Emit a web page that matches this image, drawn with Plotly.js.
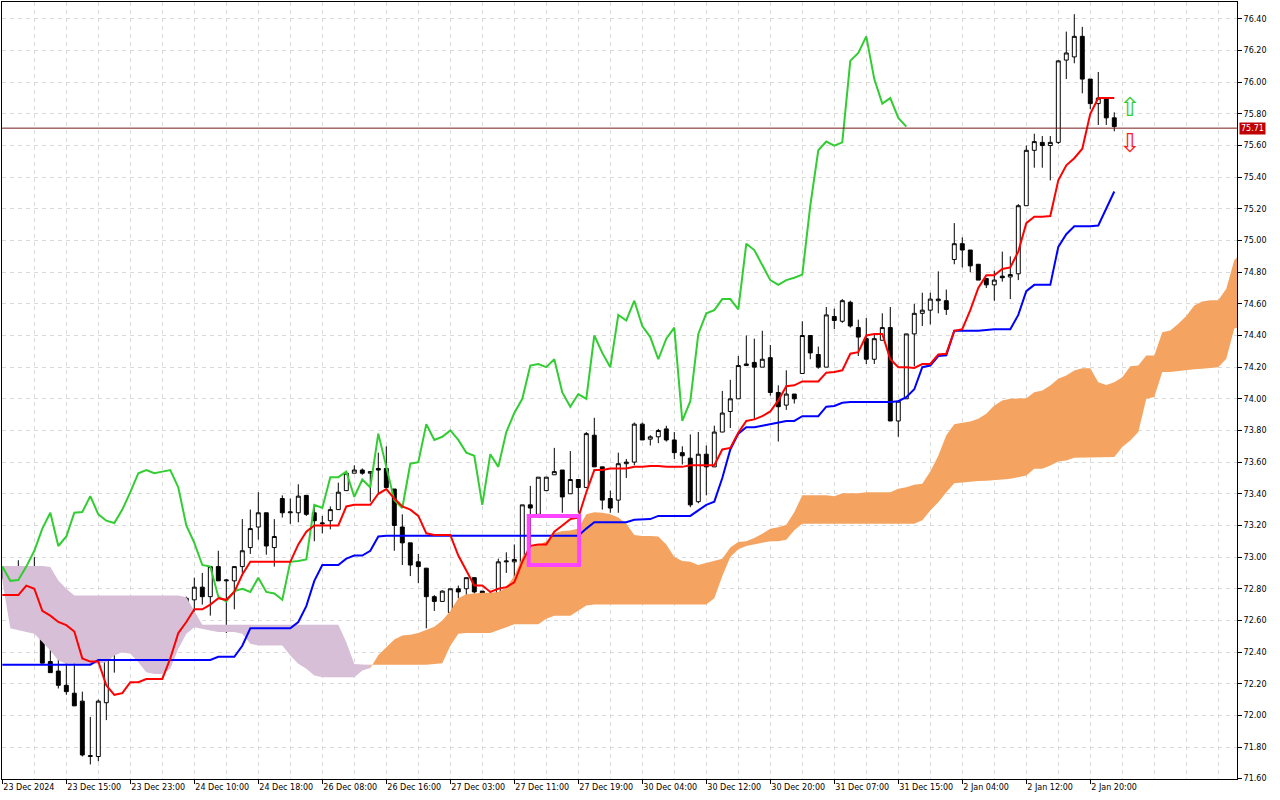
<!DOCTYPE html>
<html>
<head>
<meta charset="utf-8">
<script src="https://cdn.plot.ly/plotly-3.0.1.min.js"></script>
<style>
html,body{margin:0;padding:0;background:#fff;}
#chart{width:1280px;height:800px;}
</style>
</head>
<body>
<div id="chart"></div>
<script>
// ---- Data (H1 bars, index = bar number) ----
const xLabels = ['23 Dec 2024','23 Dec 15:00','23 Dec 23:00','24 Dec 10:00','24 Dec 18:00','26 Dec 08:00','26 Dec 16:00','27 Dec 03:00','27 Dec 11:00','27 Dec 19:00','30 Dec 04:00','30 Dec 12:00','30 Dec 20:00','31 Dec 07:00','31 Dec 15:00','2 Jan 04:00','2 Jan 12:00','2 Jan 20:00'];
const labelBars = [0,8,16,24,32,40,48,56,64,72,80,88,96,104,112,120,128,136];

const open = [
72.90,72.86,72.87,72.80,72.87,72.58,72.34,72.28,72.19,72.14,
72.09,71.74,71.74,72.08,72.41,72.51,72.56,72.58,72.52,72.58,
72.46,72.61,72.63,72.59,72.73,72.81,72.75,72.94,72.85,72.85,
72.94,73.06,73.19,73.28,73.06,73.37,73.28,73.28,73.39,73.28,
73.21,73.23,73.30,73.42,73.53,73.55,73.53,73.56,73.56,73.43,
73.19,73.09,72.97,72.93,72.75,72.72,72.65,72.80,72.80,72.87,
72.785,72.75,72.73,72.97,72.97,72.93,73.33,73.27,73.42,73.52,
73.55,73.40,73.49,73.44,73.77,73.57,73.37,73.36,73.59,73.60,
73.84,73.745,73.76,73.81,73.74,73.66,73.625,73.35,73.65,73.57,
73.79,73.92,74.00,74.21,74.23,74.20,74.26,74.04,73.96,74.03,
74.16,74.40,74.28,74.20,74.52,74.49,74.61,74.45,74.38,74.25,
74.37,74.45,73.86,74.00,74.41,74.54,74.56,74.62,74.62,74.88,
74.98,74.94,74.85,74.76,74.72,74.775,74.77,74.79,75.22,75.57,
75.62,75.60,75.62,76.14,76.16,76.29,76.02,75.865,75.90,75.775];
const high = [
72.94,72.93,72.98,72.93,73.00,72.65,72.51,72.51,72.36,72.45,
72.15,71.99,72.10,72.41,72.57,72.59,72.72,72.67,72.75,72.58,
72.63,72.70,72.68,72.75,72.87,72.90,72.94,73.04,72.86,72.94,
73.24,73.30,73.41,73.28,73.24,73.39,73.37,73.46,73.39,73.33,
73.26,73.32,73.47,73.53,73.58,73.56,73.54,73.66,73.70,73.43,
73.27,73.09,73.02,72.93,72.76,72.79,72.80,72.82,72.87,72.87,
72.785,72.78,72.99,73.03,73.08,73.33,73.45,73.505,73.505,73.69,
73.55,73.67,73.49,73.79,73.88,73.57,73.42,73.66,73.62,73.85,
73.85,73.77,73.81,73.83,73.79,73.70,73.775,73.79,73.705,73.83,
74.05,74.12,74.27,74.40,74.38,74.43,74.34,74.085,74.18,74.03,
74.49,74.40,74.33,74.58,74.57,74.63,74.62,74.50,74.51,74.41,
74.54,74.58,73.99,74.41,74.60,74.67,74.67,74.805,74.69,75.11,
75.02,74.94,74.85,74.76,74.81,74.93,74.90,75.23,75.60,75.675,
75.66,75.66,76.14,76.32,76.43,76.35,76.02,76.065,75.90,75.81];
const low = [
72.86,72.80,72.75,72.63,72.56,72.33,72.27,72.17,72.13,72.06,
71.74,71.69,71.71,71.97,72.27,72.42,72.56,72.51,72.51,72.44,
72.44,72.57,72.58,72.59,72.63,72.70,72.63,72.85,72.52,72.67,
72.90,73.02,73.11,73.015,72.94,73.25,73.21,73.22,73.26,73.10,
73.15,73.175,73.30,73.42,73.53,73.52,73.35,73.40,73.44,73.04,
72.95,72.88,72.835,72.55,72.66,72.72,72.59,72.74,72.74,72.77,
72.765,72.65,72.73,72.90,72.80,72.92,72.89,73.27,73.42,73.52,
73.28,73.40,73.28,73.44,73.57,73.30,73.28,73.28,73.50,73.58,
73.74,73.705,73.72,73.73,73.62,73.585,73.315,73.34,73.39,73.57,
73.79,73.815,74.00,74.21,73.87,74.20,74.02,73.73,73.93,73.97,
74.16,74.25,74.19,74.20,74.44,74.48,74.45,74.27,74.22,74.22,
74.37,73.86,73.76,74.00,74.205,74.46,74.47,74.54,74.53,74.85,
74.83,74.80,74.75,74.70,74.62,74.74,74.63,74.75,75.22,75.46,
75.46,75.38,75.61,76.02,76.12,75.93,75.83,75.73,75.73,75.69];
const close = [
72.87,72.87,72.80,72.88,72.56,72.33,72.27,72.19,72.15,72.06,
71.75,71.745,72.09,72.41,72.51,72.57,72.61,72.51,72.57,72.45,
72.61,72.63,72.59,72.74,72.81,72.75,72.94,72.85,72.855,72.94,
73.04,73.18,73.28,73.07,73.13,73.28,73.285,73.385,73.27,73.23,
73.215,73.30,73.41,73.53,73.55,73.53,73.54,73.55,73.44,73.20,
73.09,72.95,72.94,72.75,72.72,72.785,72.80,72.78,72.87,72.78,
72.77,72.73,72.97,72.975,72.985,73.33,73.31,73.505,73.505,73.54,
73.38,73.49,73.44,73.78,73.57,73.36,73.31,73.59,73.60,73.84,
73.74,73.76,73.80,73.74,73.66,73.64,73.33,73.65,73.57,73.79,
73.91,74.00,74.21,74.22,74.20,74.25,74.04,73.95,74.03,74.00,
74.40,74.29,74.20,74.53,74.495,74.62,74.46,74.39,74.25,74.38,
74.45,73.86,73.985,74.41,74.54,74.56,74.63,74.63,74.565,74.98,
74.94,74.84,74.75,74.72,74.75,74.765,74.785,75.22,75.57,75.625,
75.60,75.62,76.135,76.185,76.29,76.02,75.865,75.90,75.775,75.72];

const tenkan = [
72.76,72.76,72.76,72.82,72.80,72.66,72.63,72.59,72.57,72.53,
72.36,72.34,72.34,72.19,72.13,72.14,72.21,72.21,72.23,72.23,
72.23,72.36,72.52,72.59,72.67,72.67,72.70,72.74,72.73,72.78,
72.89,72.97,72.97,72.97,72.97,72.97,72.97,73.08,73.16,73.20,
73.20,73.20,73.20,73.32,73.33,73.33,73.33,73.40,73.43,73.37,
73.32,73.30,73.26,73.15,73.14,73.14,73.14,73.01,72.91,72.82,
72.82,72.78,72.80,72.81,72.84,72.97,73.07,73.08,73.08,73.16,
73.20,73.24,73.25,73.41,73.55,73.55,73.56,73.56,73.56,73.57,
73.57,73.575,73.575,73.57,73.57,73.57,73.58,73.58,73.58,73.58,
73.68,73.69,73.785,73.86,73.87,73.89,73.92,73.99,74.08,74.085,
74.11,74.11,74.11,74.165,74.17,74.18,74.285,74.295,74.40,74.41,
74.41,74.25,74.20,74.20,74.195,74.22,74.22,74.28,74.285,74.43,
74.44,74.56,74.70,74.78,74.78,74.82,74.83,74.93,75.11,75.15,
75.15,75.155,75.38,75.475,75.52,75.58,75.80,75.90,75.90,75.90];
const kijun = [
72.32,72.32,72.32,72.32,72.32,72.32,72.32,72.32,72.32,72.32,
72.32,72.32,72.35,72.35,72.35,72.35,72.35,72.35,72.35,72.35,
72.35,72.35,72.35,72.35,72.35,72.35,72.35,72.37,72.37,72.37,
72.44,72.55,72.55,72.55,72.55,72.55,72.55,72.59,72.69,72.85,
72.95,72.95,72.95,72.99,73.01,73.01,73.04,73.13,73.135,73.135,
73.135,73.135,73.135,73.135,73.135,73.135,73.135,73.135,73.135,73.135,
73.135,73.135,73.135,73.135,73.135,73.135,73.135,73.135,73.135,73.135,
73.135,73.135,73.135,73.18,73.22,73.22,73.22,73.22,73.22,73.236,
73.24,73.24,73.26,73.26,73.26,73.26,73.26,73.295,73.33,73.35,
73.50,73.68,73.78,73.82,73.82,73.83,73.84,73.85,73.86,73.86,
73.89,73.89,73.89,73.95,73.955,73.975,73.98,73.98,73.98,73.98,
73.98,73.98,73.985,74.01,74.06,74.20,74.21,74.27,74.275,74.43,
74.43,74.43,74.43,74.435,74.44,74.44,74.44,74.53,74.68,74.72,
74.72,74.72,74.96,75.04,75.09,75.09,75.09,75.095,75.20,75.31];
// Senkou spans as drawn (already shifted 26 bars forward), bars 0..155
const spanA = [
72.85,72.55,72.536,72.526,72.515,72.463,72.41,72.347,72.326,72.326,
72.326,72.326,72.326,72.336,72.378,72.399,72.389,72.336,72.273,72.262,
72.262,72.294,72.421,72.515,72.557,72.547,72.536,72.526,72.526,72.526,
72.515,72.452,72.442,72.442,72.442,72.442,72.378,72.326,72.294,72.252,
72.241,72.241,72.241,72.241,72.241,72.284,72.30,72.38,72.43,72.48,
72.505,72.51,72.52,72.54,72.56,72.60,72.66,72.74,72.765,72.77,
72.775,72.775,72.78,72.81,72.88,73.00,73.06,73.075,73.10,73.15,
73.165,73.168,73.18,73.27,73.284,73.28,73.27,73.25,73.21,73.14,
73.133,73.133,73.13,73.08,73.00,72.975,72.97,72.95,72.965,72.98,
72.99,73.06,73.095,73.10,73.12,73.147,73.179,73.189,73.204,73.284,
73.39,73.39,73.39,73.39,73.385,73.404,73.404,73.404,73.41,73.41,
73.41,73.41,73.432,73.442,73.457,73.463,73.54,73.64,73.77,73.84,
73.849,73.857,73.874,73.905,73.958,73.99,74.00,74.00,74.004,74.042,
74.053,74.084,74.126,74.147,74.179,74.193,74.193,74.105,74.088,74.105,
74.136,74.206,74.21,74.274,74.274,74.421,74.432,74.474,74.523,74.59,
74.615,74.622,74.622,74.696,74.875,74.927];
const spanB = [
72.943,72.943,72.943,72.943,72.943,72.943,72.937,72.852,72.80,72.758,
72.758,72.758,72.758,72.758,72.758,72.758,72.758,72.758,72.758,72.758,
72.758,72.758,72.758,72.747,72.663,72.572,72.572,72.572,72.572,72.572,
72.572,72.572,72.572,72.572,72.572,72.572,72.572,72.572,72.572,72.572,
72.572,72.572,72.572,72.462,72.325,72.321,72.32,72.32,72.32,72.32,
72.32,72.32,72.32,72.32,72.325,72.33,72.44,72.515,72.52,72.52,
72.52,72.52,72.54,72.557,72.575,72.575,72.575,72.575,72.61,72.63,
72.63,72.63,72.66,72.694,72.70,72.70,72.70,72.70,72.70,72.70,
72.70,72.70,72.70,72.70,72.70,72.70,72.70,72.70,72.70,72.74,
72.88,73.00,73.05,73.07,73.08,73.09,73.10,73.10,73.11,73.17,
73.21,73.21,73.21,73.21,73.21,73.21,73.21,73.21,73.21,73.21,
73.21,73.21,73.21,73.21,73.21,73.232,73.295,73.347,73.41,73.467,
73.474,73.477,73.48,73.482,73.484,73.49,73.495,73.505,73.516,73.558,
73.558,73.579,73.604,73.611,73.628,73.632,73.632,73.632,73.632,73.632,
73.695,73.737,73.79,74.00,74.011,74.169,74.17,74.177,74.18,74.186,
74.19,74.193,74.20,74.253,74.444,74.46];
const chikouShift = 26;
const cloudSwitchBar = 46;      // cloud colour changes from Span B on top to Span A on top
const lastPrice = 75.71;
const lastPriceText = '75.71';
const markBox = {x0: 65.8, x1: 72.1, y0: 72.95, y1: 73.26};
const arrowBar = 141, arrowUpY = 75.745, arrowDownY = 75.715;

// ---- Build traces ----
const bars = close.map((_, i) => i);
const cloudBars = spanA.map((_, i) => i);
function cloudPoly(i0, i1, top, bot) {
  const xs = cloudBars.slice(i0, i1 + 1);
  const xr = xs.slice().reverse();
  return {x: xs.concat(xr), y: top.slice(i0, i1 + 1).concat(bot.slice(i0, i1 + 1).reverse())};
}
const purple = cloudPoly(0, cloudSwitchBar, spanB, spanA);
const orange = cloudPoly(cloudSwitchBar, spanA.length - 1, spanA, spanB);

const traces = [
  {type:'scatter', mode:'lines', x:purple.x, y:purple.y, fill:'toself', fillcolor:'#D8BFD8', line:{width:0, color:'#D8BFD8'}, hoverinfo:'skip'},
  {type:'scatter', mode:'lines', x:orange.x, y:orange.y, fill:'toself', fillcolor:'#F4A460', line:{width:0, color:'#F4A460'}, hoverinfo:'skip'},
  {type:'candlestick', x:bars, open:open, high:high, low:low, close:close,
   increasing:{line:{color:'#000000', width:1}, fillcolor:'#ffffff'},
   decreasing:{line:{color:'#000000', width:1}, fillcolor:'#000000'},
   whiskerwidth:0, hoverinfo:'skip'},
  {type:'scatter', mode:'lines', x:bars.map(i => i - chikouShift), y:close, line:{color:'#32CD32', width:2}, hoverinfo:'skip'},
  {type:'scatter', mode:'lines', x:bars, y:kijun, line:{color:'#0000FF', width:2}, hoverinfo:'skip'},
  {type:'scatter', mode:'lines', x:bars, y:tenkan, line:{color:'#FF0000', width:2}, hoverinfo:'skip'}
];

const gridColor = '#d9d9d9';
const font = {family:'DejaVu Sans, sans-serif', size:8, color:'#000'};
const layout = {
  width:1280, height:800,
  margin:{l:2, r:43, t:2, b:21, pad:0},
  paper_bgcolor:'#ffffff', plot_bgcolor:'#ffffff',
  showlegend:false, dragmode:false, font:font,
  boxgap:0.3,
  xaxis:{
    type:'linear', range:[-0.04, 154.34], fixedrange:true,
    rangeslider:{visible:false},
    tickmode:'array', tickvals:labelBars, ticktext:xLabels,
    ticklabelposition:'outside right',
    ticks:'outside', ticklen:4, tickcolor:'#000', tickwidth:1,
    showgrid:true, gridcolor:gridColor, griddash:'4px,4px', gridwidth:1,
    minor:{tickmode:'linear', tick0:0, dtick:4, showgrid:true, gridcolor:gridColor, griddash:'4px,4px', gridwidth:1, ticks:''},
    showline:true, mirror:true, linecolor:'#000', linewidth:1,
    zeroline:false, tickfont:font
  },
  yaxis:{
    side:'right', range:[71.598, 76.507], fixedrange:true,
    tickmode:'linear', tick0:71.8, dtick:0.2, tickformat:'.2f',
    ticks:'outside', ticklen:4, tickcolor:'#000', tickwidth:1,
    showgrid:true, gridcolor:gridColor, griddash:'4px,4px', gridwidth:1,
    showline:true, mirror:true, linecolor:'#000', linewidth:1,
    zeroline:false, tickfont:font
  },
  shapes:[
    {type:'line', xref:'paper', x0:0, x1:1, yref:'y', y0:lastPrice, y1:lastPrice, line:{color:'#7a1a1a', width:1}},
    {type:'rect', xref:'x', yref:'y', x0:markBox.x0, x1:markBox.x1, y0:markBox.y0, y1:markBox.y1, line:{color:'#FF44FF', width:4}, fillcolor:'rgba(0,0,0,0)'}
  ],
  annotations:[
    {xref:'paper', x:1, xanchor:'left', xshift:2, yref:'y', y:lastPrice, yanchor:'middle', text:lastPriceText, showarrow:false,
     bgcolor:'#C00000', font:{family:'DejaVu Sans, sans-serif', size:8, color:'#ffffff'}, borderpad:1},
    {xref:'x', x:arrowBar, yref:'y', y:arrowUpY, yanchor:'bottom', text:'\u21E7', showarrow:false, borderpad:0,
     font:{family:'DejaVu Sans', size:26, color:'#33CC33'}},
    {xref:'x', x:arrowBar, yref:'y', y:arrowDownY, yanchor:'top', text:'\u21E9', showarrow:false, borderpad:0,
     font:{family:'DejaVu Sans', size:26, color:'#FF2020'}}
  ]
};
Plotly.newPlot('chart', traces, layout, {staticPlot:true, displayModeBar:false});
</script>
</body>
</html>
